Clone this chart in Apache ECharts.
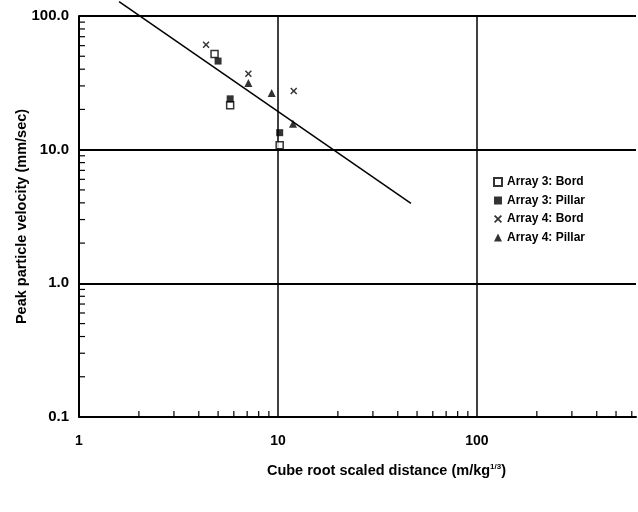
<!DOCTYPE html>
<html>
<head>
<meta charset="utf-8">
<script src="https://cdn.jsdelivr.net/npm/echarts@6/dist/echarts.min.js"></script>
<style>
  html, body { margin: 0; padding: 0; background: #fff; }
  #main { width: 638px; height: 512px; }
</style>
</head>
<body>
<div id="main"></div>
<script>
// data: [distance, velocity]
var array3Bord = [[4.8, 52], [5.75, 21.5], [10.2, 10.8]];
var array3Pillar = [[5.0, 46], [5.75, 24], [10.2, 13.4]];
var array4Bord = [[4.35, 61], [7.1, 37], [12.0, 27.5]];
var array4Pillar = [[7.1, 31.5], [9.3, 26.5], [11.9, 15.6]];
var fitLine = [[1.59, 128], [46.6, 3.96]];

var xTicks = [1, 10, 100];
var yTicks = [0.1, 1, 10, 100];
// minor tick positions (2..9 of every decade)
var xMinor = [2, 3, 4, 5, 6, 7, 8, 9, 20, 30, 40, 50, 60, 70, 80, 90, 200, 300, 400, 500, 600];
var yMinor = [0.2, 0.3, 0.4, 0.5, 0.6, 0.7, 0.8, 0.9, 2, 3, 4, 5, 6, 7, 8, 9, 20, 30, 40, 50, 60, 70, 80, 90];

var font = 'Liberation Sans, Arial, sans-serif';
var crossPath = 'path://M1.5,0L5,3.5L8.5,0L10,1.5L6.5,5L10,8.5L8.5,10L5,6.5L1.5,10L0,8.5L3.5,5L0,1.5Z';

var myChart = echarts.init(document.getElementById('main'));
myChart.setOption({
  animation: false,
  grid: { left: 79, right: 2, top: 16, bottom: 95, containLabel: false, outerBoundsMode: 'none' },
  legend: {
    data: ['Array 3: Bord', 'Array 3: Pillar', 'Array 4: Bord', 'Array 4: Pillar'],
    orient: 'vertical',
    left: 488,
    top: 171,
    itemWidth: 8,
    itemHeight: 8,
    itemGap: 6.5,
    textStyle: { fontFamily: font, fontSize: 12, fontWeight: 'bold', color: '#000' }
  },
  xAxis: {
    type: 'log',
    logBase: 10,
    min: 1,
    max: 630,
    name: 'Cube root scaled distance (m/kg{sup|1/3})',
    nameLocation: 'middle',
    nameGap: 46,
    nameMoveOverlap: false,
    nameTextStyle: {
      fontFamily: font, fontSize: 14.5, fontWeight: 'bold', color: '#000', padding: [0, 0, 0, 58],
      rich: { sup: { fontSize: 8, fontWeight: 'bold', verticalAlign: 'top', padding: [0, 0, 7, 0], fontFamily: font, color: '#000' } }
    },
    axisLine: { lineStyle: { color: '#000', width: 2 } },
    axisTick: { show: false },
    axisLabel: {
      margin: 17, fontFamily: font, fontSize: 14, fontWeight: 'bold', color: '#000',
      formatter: function (v) { return xTicks.indexOf(v) >= 0 ? String(v) : ''; }
    },
    splitLine: { show: true, showMinLine: false, showMaxLine: false, lineStyle: { color: '#000', width: 1.5 } }
  },
  yAxis: {
    type: 'log',
    logBase: 10,
    min: 0.1,
    max: 100,
    name: 'Peak particle velocity (mm/sec)',
    nameLocation: 'middle',
    nameGap: 50,
    nameMoveOverlap: false,
    nameTextStyle: { fontFamily: font, fontSize: 14.5, fontWeight: 'bold', color: '#000' },
    axisLine: { lineStyle: { color: '#000', width: 2 } },
    axisTick: { show: false },
    axisLabel: {
      margin: 10, fontFamily: font, fontSize: 15, fontWeight: 'bold', color: '#000',
      formatter: function (v) { return yTicks.indexOf(v) >= 0 ? v.toFixed(1) : ''; }
    },
    splitLine: { show: true, showMinLine: false, lineStyle: { color: '#000', width: 2 } }
  },
  series: [
    {
      name: 'fit',
      type: 'line',
      data: fitLine,
      clip: false,
      symbol: 'none',
      lineStyle: { color: '#000', width: 1.5 },
      silent: true
    },
    {
      name: 'Array 3: Bord',
      type: 'scatter',
      data: array3Bord,
      symbol: 'rect',
      symbolSize: 7,
      itemStyle: { color: '#fff', borderColor: '#000', borderWidth: 1.5 }
    },
    {
      name: 'Array 3: Pillar',
      type: 'scatter',
      data: array3Pillar,
      symbol: 'rect',
      symbolSize: 7,
      itemStyle: { color: '#000' }
    },
    {
      name: 'Array 4: Bord',
      type: 'scatter',
      data: array4Bord,
      symbol: crossPath,
      symbolSize: 7,
      itemStyle: { color: '#000' }
    },
    {
      name: 'Array 4: Pillar',
      type: 'scatter',
      data: array4Pillar,
      symbol: 'triangle',
      symbolSize: 8,
      itemStyle: { color: '#000' }
    },
    {
      // minor ticks on the distance axis
      type: 'custom',
      silent: true,
      clip: false,
      data: xMinor.map(function (v) { return [v, 0.1]; }),
      renderItem: function (params, api) {
        var p = api.coord([api.value(0), api.value(1)]);
        return { type: 'line', shape: { x1: p[0], y1: p[1], x2: p[0], y2: p[1] - 6 }, style: { stroke: '#000', lineWidth: 1.2 } };
      }
    },
    {
      // minor ticks on the velocity axis
      type: 'custom',
      silent: true,
      clip: false,
      data: yMinor.map(function (v) { return [1, v]; }),
      renderItem: function (params, api) {
        var p = api.coord([api.value(0), api.value(1)]);
        return { type: 'line', shape: { x1: p[0], y1: p[1], x2: p[0] + 6, y2: p[1] }, style: { stroke: '#000', lineWidth: 1.2 } };
      }
    }
  ]
});
</script>
</body>
</html>
